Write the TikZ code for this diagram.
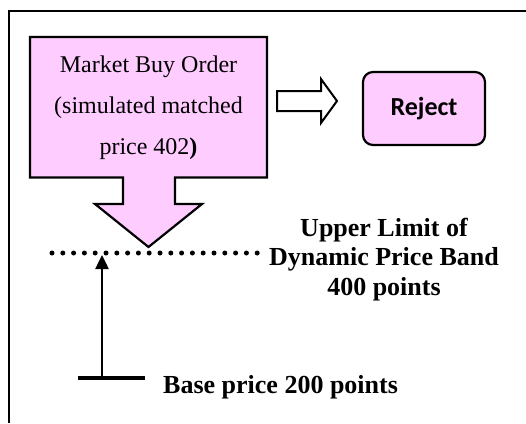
\documentclass[tikz,border=0pt]{standalone}
\usepackage{fontspec}
\setmainfont{Liberation Serif}
\newfontfamily\calibri{Carlito}
\usetikzlibrary{positioning}
\usetikzlibrary{arrows.meta}
\definecolor{orderpink}{RGB}{255,204,255}

\tikzset{
  pinkshape/.style={draw=black,line width=2.2pt,fill=orderpink},
  ordertext/.style={align=center,inner sep=0pt,font=\fontsize{24}{41}\selectfont},
  rejectbox/.style={pinkshape,rounded corners=10pt,minimum width=122pt,minimum height=73pt,
    font=\calibri\bfseries\fontsize{26}{30}\selectfont},
  bandtext/.style={align=center,inner sep=0pt,font=\bfseries\fontsize{26}{29.5}\selectfont},
}

\begin{document}
\begin{tikzpicture}[x=1pt,y=-1pt]
  \useasboundingbox (0,0) rectangle (526,423);
  % frame
  \draw[line width=2pt] (526,10.5) -- (8.5,10.5) -- (8.5,423);

  % order box with down arrow
  \draw[pinkshape,line join=miter] (30,37) -- (267,37) -- (267,177.5) -- (175,177.5) -- (175,204)
     -- (202,204) -- (148.5,247) -- (95,204) -- (123,204) -- (123,177.5) -- (30,177.5) -- cycle;
  \node[ordertext] (order) at (148.5,108) {Market Buy Order\\(simulated matched\\price 402\textbf{)}};

  % hollow arrow and reject
  \draw[line width=2pt] (277,91) -- (321,91) -- (321,79) -- (337,101) -- (321,123)
     -- (321,111) -- (277,111) -- cycle;
  \node[rejectbox] (reject) at (424,108.5) {Reject};

  % price levels
  \coordinate (dotl) at (52,253);
  \coordinate (dotr) at (258,253);
  \draw[line width=5pt,line cap=round,dash pattern=on 0pt off 10.8pt] (dotl) -- (dotr);
  \node[bandtext] (limit) at (384,259.5) {Upper Limit of\\Dynamic Price Band\\400 points};

  \coordinate (base) at (102,378);
  \coordinate (top) at (102,255);
  \coordinate (barl) at (78,378);
  \coordinate (barr) at (145,378);
  \draw[line width=3.5pt] (barl) -- (barr);
  \draw[line width=2.5pt,-{Triangle[width=13pt,length=14pt]}] (base) -- (top);
  \node[anchor=base west,inner sep=0pt,font=\bfseries\fontsize{26}{30}\selectfont] (baseprice)
     at (163,393) {Base price 200 points};
\end{tikzpicture}
\end{document}
